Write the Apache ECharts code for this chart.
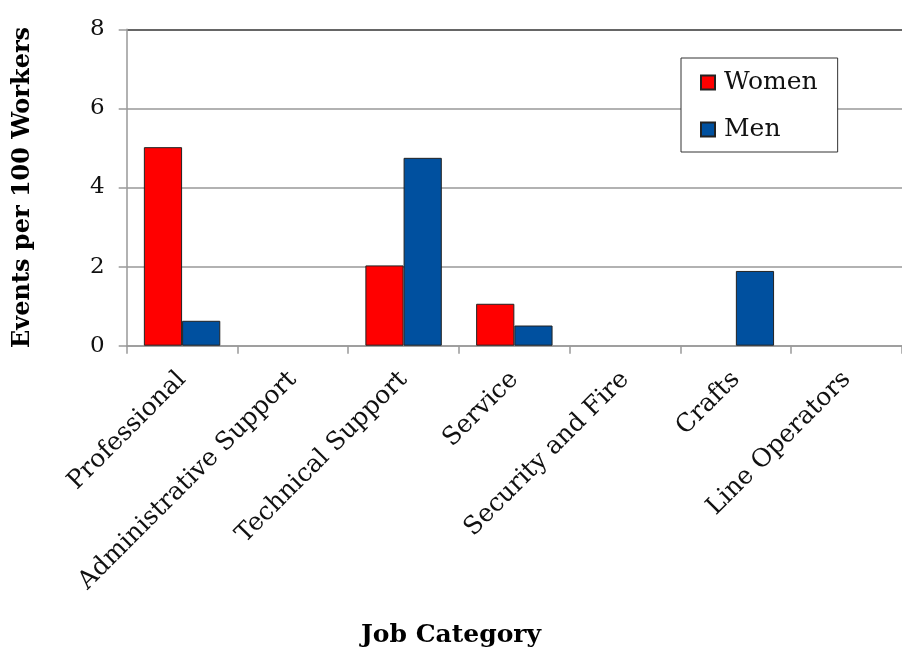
<!DOCTYPE html>
<html>
<head>
<meta charset="utf-8">
<script src="https://cdn.jsdelivr.net/npm/echarts@6/dist/echarts.min.js"></script>
<style>html,body{margin:0;padding:0;background:#fff}#c{width:902px;height:652px}</style>
</head>
<body>
<div id="c"></div>
<script>
const categories = ["Professional", "Administrative Support", "Technical Support", "Service", "Security and Fire", "Crafts", "Line Operators"];
const women = [5.02, 0, 2.03, 1.06, 0, 0, 0];
const men = [0.63, 0, 4.75, 0.51, 0, 1.89, 0];
const yTicks = [0, 2, 4, 6, 8];

const hideZero = arr => arr.map(v => (v === 0 ? '-' : v));

const chart = echarts.init(document.getElementById('c'));
const serif = '"DejaVu Serif", "Liberation Serif", serif';
chart.setOption({
  animation: false,
  backgroundColor: '#fff',
  grid: { left: 126.7, right: -11, top: 29.3, bottom: 306.3 },
  title: {
    text: 'Job Category',
    left: 'center', top: 618,
    textStyle: { fontFamily: serif, fontWeight: 'bold', fontSize: 25, color: '#000' }
  },
  legend: {
    orient: 'vertical',
    left: 681, top: 58,
    backgroundColor: '#fff',
    borderColor: '#333', borderWidth: 1,
    padding: [12, 20, 10, 19],
    itemGap: 22,
    itemWidth: 14, itemHeight: 14,
    icon: 'rect',
    textStyle: { fontFamily: serif, fontSize: 25, color: '#111', padding: [0, 0, 0, 4] },
    data: ['Women', 'Men']
  },
  xAxis: {
    type: 'category',
    data: categories,
    axisLine: { lineStyle: { color: '#999', width: 1.5 } },
    axisTick: { show: true, length: 8, lineStyle: { color: '#999', width: 1.5 } },
    axisLabel: { rotate: 45, interval: 0, fontFamily: serif, fontSize: 25, color: '#111', margin: 30 }
  },
  yAxis: {
    type: 'value',
    min: 0, max: 8, interval: 2,
    name: 'Events per 100 Workers',
    nameLocation: 'middle',
    nameGap: 92,
    nameTextStyle: { fontFamily: serif, fontWeight: 'bold', fontSize: 24, color: '#000' },
    axisLine: { show: true, lineStyle: { color: '#999', width: 1.5 } },
    axisTick: { show: true, length: 8, lineStyle: { color: '#999', width: 1.5 } },
    axisLabel: { fontFamily: serif, fontSize: 23, color: '#111', margin: 22,
      formatter: v => yTicks.includes(v) ? String(v) : '' },
    splitLine: { show: true, lineStyle: { color: ['#999', '#999', '#999', '#999', '#333'], width: 1.5 } }
  },
  series: [
    { name: 'Women', type: 'bar', data: hideZero(women), barGap: '0%', barCategoryGap: '31%',
      itemStyle: { color: '#FF0000', borderColor: '#222', borderWidth: 1 } },
    { name: 'Men', type: 'bar', data: hideZero(men), barGap: '0%', barCategoryGap: '31%',
      itemStyle: { color: '#00509F', borderColor: '#222', borderWidth: 1 } }
  ]
});
</script>
</body>
</html>
